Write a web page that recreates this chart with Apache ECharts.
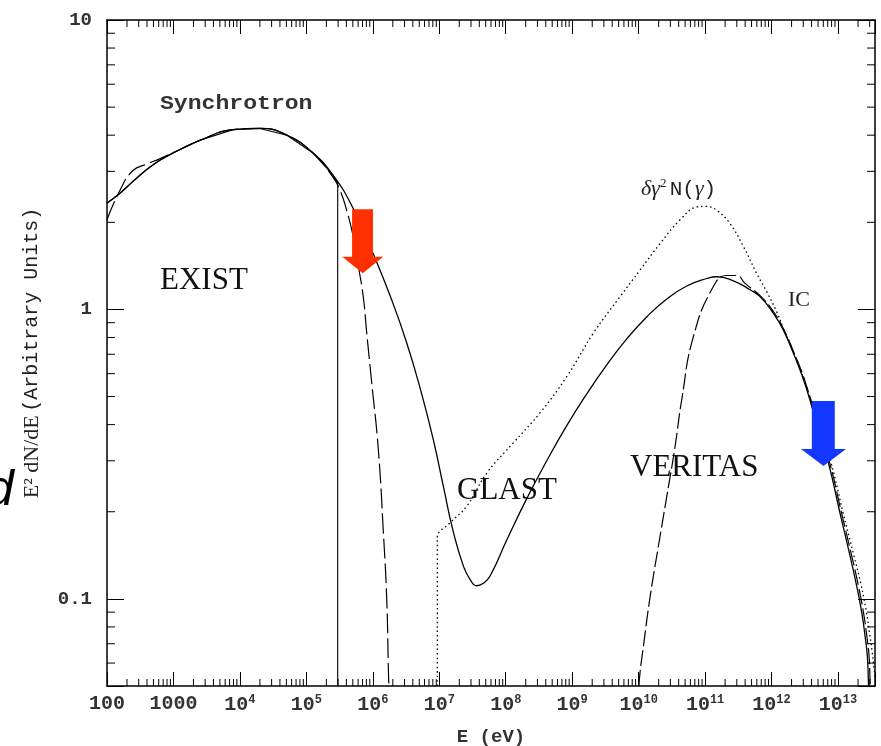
<!DOCTYPE html>
<html>
<head>
<meta charset="utf-8">
<script src="https://cdn.jsdelivr.net/npm/echarts@6/dist/echarts.min.js"></script>
<style>
html, body { margin: 0; padding: 0; background: #fff; }
#chart { width: 881px; height: 746px; }
</style>
</head>
<body>
<div id="chart"></div>
<script>
// axis ranges / tick labels
const xMin = 100
const xMax = 3.6e13
const yMin = 0.05
const yMax = 10
const xTickExp = [2, 3, 4, 5, 6, 7, 8, 9, 10, 11, 12, 13]
const xTickText = ['100', '1000', '{b|10}{s|4}', '{b|10}{s|5}', '{b|10}{s|6}', '{b|10}{s|7}', '{b|10}{s|8}',
  '{b|10}{s|9}', '{b|10}{s|10}', '{b|10}{s|11}', '{b|10}{s|12}', '{b|10}{s|13}']
const yTickExp = [-1, 0, 1]
const yTickText = ['0.1', '1', '10']

// solid: synchrotron + IC total
const totalE = [100, 157, 246, 400, 628, 1256, 2512, 7870, 2.0e4, 5.1e4, 1.26e5, 2.52e5, 5.03e5, 1.0e6, 1.92e6,
  3.24e6, 5.13e6, 8.13e6, 1.15e7, 1.63e7, 2.30e7, 2.90e7, 3.66e7, 4.55e7, 5.81e7, 1.04e8, 2.07e8, 4.14e8,
  8.28e8, 1.66e9, 3.31e9, 6.62e9, 1.32e10, 2.65e10, 5.30e10, 1.06e11, 1.50e11, 2.66e11, 4.74e11, 6.71e11,
  1.064e12, 1.50e12, 2.13e12, 2.68e12, 3.39e12, 4.03e12, 7.16e12, 1.07e13, 1.52e13, 1.91e13, 2.28e13,
  2.55e13, 2.76e13, 2.86e13, 2.88e13]
const totalF = [2.33, 2.52, 2.77, 3.05, 3.28, 3.57, 3.84, 4.18, 4.22, 4.00, 3.47, 2.91, 2.24, 1.57, 1.08,
  0.766, 0.536, 0.355, 0.245, 0.170, 0.130, 0.1167, 0.111, 0.113, 0.120, 0.160, 0.222, 0.300,
  0.397, 0.511, 0.643, 0.791, 0.942, 1.087, 1.205, 1.279, 1.297, 1.255, 1.17, 1.107,
  0.970, 0.850, 0.706, 0.618, 0.528, 0.462, 0.295, 0.198, 0.1405, 0.1107, 0.0895,
  0.0744, 0.0635, 0.0527, 0.050]

// dashed: synchrotron component
const syncE = [100, 157, 246, 400, 628, 1256, 2512, 7870, 2.0e4, 5.1e4, 1.26e5, 2.52e5, 3.21e5, 4.04e5, 5.09e5,
  6.06e5, 7.2e5, 8.09e5, 9.62e5, 1.21e6, 1.44e6, 1.62e6, 1.71e6, 1.74e6]
const syncF = [2.04, 2.58, 3.02, 3.18, 3.32, 3.57, 3.84, 4.18, 4.22, 4.00, 3.47, 2.86, 2.58, 2.20, 1.78,
  1.41, 1.10, 0.83, 0.558, 0.328, 0.170, 0.0995, 0.0585, 0.050]

// thin solid with sharp cutoff
const cutE = [100, 157, 246, 400, 628, 1256, 2512, 7870, 2.0e4, 5.1e4, 1.26e5, 2.52e5, 2.96e5, 2.96e5]
const cutF = [2.33, 2.52, 2.77, 3.05, 3.28, 3.57, 3.84, 4.18, 4.22, 4.00, 3.47, 2.91, 2.73, 0.05]

// dotted: delta gamma^2 N(gamma)
const elecE = [9.35e6, 9.35e6, 1.45e7, 2.59e7, 5.18e7, 1.30e8, 3.28e8, 8.28e8, 2.08e9, 5.25e9, 1.05e10, 2.10e10,
  4.20e10, 7.48e10, 1.06e11, 1.50e11, 2.37e11, 3.77e11, 5.98e11, 8.47e11, 1.20e12, 1.50e12, 2.13e12, 2.68e12,
  3.39e12, 4.03e12, 7.7e12, 1.18e13, 1.72e13, 2.2e13, 2.65e13, 2.98e13, 3.25e13, 3.5e13, 3.6e13]
const elecF = [0.05, 0.163, 0.183, 0.209, 0.272, 0.346, 0.439, 0.586, 0.828, 1.107, 1.368, 1.69,
  2.04, 2.26, 2.27, 2.20, 1.98, 1.65, 1.33, 1.15, 0.98, 0.86, 0.715, 0.627,
  0.537, 0.47, 0.30, 0.20, 0.142, 0.113, 0.091, 0.076, 0.066, 0.057, 0.054]

// dashed: IC component
const icE = [1.01e10, 1.05e10, 1.18e10, 1.49e10, 1.98e10, 2.65e10, 3.53e10, 4.45e10, 6.66e10, 1.33e11, 2.12e11,
  2.99e11, 3.99e11, 6.9e11, 1.09e12, 1.53e12, 2.18e12, 2.76e12, 3.5e12, 4.18e12, 7.5e12, 1.13e13, 1.61e13,
  2.03e13, 2.42e13, 2.71e13, 2.93e13, 3.03e13, 3.06e13]
const icF = [0.050, 0.0558, 0.0687, 0.102, 0.152, 0.226, 0.336, 0.488, 0.805, 1.20, 1.31,
  1.31, 1.23, 1.11, 0.975, 0.852, 0.708, 0.62, 0.528, 0.462, 0.295, 0.198, 0.1405,
  0.1107, 0.0895, 0.0744, 0.0635, 0.0527, 0.050]

// arrows (centre positions)
const redArrow = [7.05e5, 1.72]
const blueArrow = [6.05e12, 0.373]

const pair = (xs, ys) => xs.map((x, i) => [x, ys[i]])
const isDecade = v => Math.abs(Math.log10(v) - Math.round(Math.log10(v))) < 1e-6

// minor log ticks (2..9 per decade)
const xMinor = []
for (let d = 2; d <= 13; d++) {
  for (let k = 2; k <= 9; k++) {
    if (k * Math.pow(10, d) < xMax) xMinor.push([k * Math.pow(10, d), 1])
  }
}
const yMinor = []
for (let d = -2; d <= 0; d++) {
  for (let k = 2; k <= 9; k++) {
    const v = k * Math.pow(10, d)
    if (v > yMin && v < yMax) yMinor.push([1000, v])
  }
}

const ARROW = 'path://M24,0 L75,0 L75,74 L100,74 L50,100 L0,74 L24,74 Z'
const MONO = 'Liberation Mono'
const SERIF = 'Liberation Serif'

function lineSeries (name, data, type, width, smooth) {
  return {
    name: name,
    type: 'line',
    data: data,
    showSymbol: false,
    smooth: smooth,
    lineStyle: { color: '#000', width: width || 1.2, type: type || 'solid' },
    silent: true,
    z: 3
  }
}

let chart = echarts.init(document.getElementById('chart'))
let option = {
  animation: false,
  backgroundColor: '#fff',
  grid: { left: 107, right: 6, top: 20, bottom: 60, outerBoundsMode: 'none', containLabel: false },
  xAxis: [
    {
      type: 'log',
      logBase: 10,
      min: xMin,
      max: xMax,
      interval: 1,
      position: 'bottom',
      name: 'E (eV)',
      nameLocation: 'middle',
      nameGap: 42,
      nameTextStyle: { fontFamily: MONO, fontWeight: 'bold', fontSize: 19, color: '#333' },
      axisLine: { lineStyle: { color: '#000', width: 1.5 } },
      axisTick: { inside: true, length: 14, lineStyle: { color: '#000', width: 1 } },
      splitLine: { show: false },
      axisLabel: {
        interval: 0,
        margin: 8,
        color: '#333',
        fontFamily: MONO,
        fontWeight: 'bold',
        fontSize: 20,
        formatter: function (v) {
          if (!isDecade(v)) return ''
          const i = xTickExp.indexOf(Math.round(Math.log10(v)))
          return i < 0 ? '' : xTickText[i]
        },
        rich: {
          b: { fontFamily: MONO, fontWeight: 'bold', fontSize: 20, color: '#333', lineHeight: 22 },
          s: { fontFamily: MONO, fontWeight: 'bold', fontSize: 12, color: '#333', lineHeight: 12, verticalAlign: 'top' }
        }
      }
    },
    {
      type: 'log',
      logBase: 10,
      min: xMin,
      max: xMax,
      interval: 1,
      position: 'top',
      axisLine: { lineStyle: { color: '#000', width: 1.5 } },
      axisTick: { inside: true, length: 14, lineStyle: { color: '#000', width: 1 } },
      splitLine: { show: false },
      axisLabel: { show: false }
    }
  ],
  yAxis: [
    {
      type: 'log',
      logBase: 10,
      min: yMin,
      max: yMax,
      position: 'left',
      name: '{a|E² dN/dE} {b|(Arbitrary Units)}',
      nameLocation: 'middle',
      nameGap: 64,
      nameTextStyle: {
        rich: {
          a: { fontFamily: SERIF, fontSize: 22, color: '#222' },
          b: { fontFamily: MONO, fontSize: 20, color: '#222' }
        }
      },
      axisLine: { lineStyle: { color: '#000', width: 1.5 } },
      axisTick: { inside: true, length: 17, lineStyle: { color: '#000', width: 1 } },
      splitLine: { show: false },
      axisLabel: {
        margin: 15,
        color: '#333',
        fontFamily: MONO,
        fontWeight: 'bold',
        fontSize: 19,
        formatter: function (v) {
          if (!isDecade(v)) return ''
          const i = yTickExp.indexOf(Math.round(Math.log10(v)))
          return i < 0 ? '' : yTickText[i]
        }
      }
    },
    {
      type: 'log',
      logBase: 10,
      min: yMin,
      max: yMax,
      position: 'right',
      axisLine: { lineStyle: { color: '#000', width: 1.5 } },
      axisTick: { inside: true, length: 17, lineStyle: { color: '#000', width: 1 } },
      splitLine: { show: false },
      axisLabel: { show: false }
    }
  ],
  graphic: [
    { type: 'text', x: 160, y: 93, scaleX: 1.1, style: { text: 'Synchrotron', fontFamily: MONO, fontWeight: 'bold', fontSize: 21, fill: '#333' } },
    { type: 'text', left: 160, top: 265, style: { text: 'EXIST', fontFamily: SERIF, fontSize: 31, fill: '#111' } },
    { type: 'text', left: 457, top: 475, style: { text: 'GLAST', fontFamily: SERIF, fontSize: 31, fill: '#111' } },
    { type: 'text', left: 630, top: 452, style: { text: 'VERITAS', fontFamily: SERIF, fontSize: 31, fill: '#111' } },
    { type: 'text', left: 788, top: 289, style: { text: 'IC', fontFamily: SERIF, fontSize: 22, fill: '#222' } },
    {
      type: 'text',
      left: 641,
      top: 177,
      style: {
        text: '{g|δγ}{t|2} {m|N(}{g|γ}{m|)}',
        rich: {
          g: { fontFamily: SERIF, fontStyle: 'italic', fontSize: 22, fill: '#222', lineHeight: 24 },
          t: { fontFamily: SERIF, fontSize: 13, fill: '#222', lineHeight: 13, verticalAlign: 'top' },
          m: { fontFamily: MONO, fontSize: 21, fill: '#222', lineHeight: 24 }
        }
      }
    },
    { type: 'text', left: -14, top: 466, style: { text: 'd', fontFamily: 'Liberation Sans', fontStyle: 'italic', fontSize: 50, fill: '#000' } }
  ],
  series: [
    lineSeries('total', pair(totalE, totalF), 'solid', 1.3, 0.5),
    lineSeries('cutoff', pair(cutE, cutF), 'solid', 1.1, false),
    lineSeries('synchrotron', pair(syncE, syncF), [20, 5], 1.2, 0.5),
    lineSeries('electrons', pair(elecE, elecF), [1.5, 3], 1.3, 0.4),
    lineSeries('IC', pair(icE, icF), [16, 4], 1.2, 0.5),
    {
      type: 'scatter',
      silent: true,
      data: [
        { value: redArrow, symbolSize: [41, 64], itemStyle: { color: '#ff3000', opacity: 1 } },
        { value: blueArrow, symbolSize: [45, 65], itemStyle: { color: '#1238ff', opacity: 1 } }
      ],
      symbol: ARROW,
      z: 5
    },
    {
      type: 'custom',
      silent: true,
      data: xMinor,
      encode: { x: 0, y: 1 },
      renderItem: function (params, api) {
        const cs = params.coordSys
        const p = api.coord([api.value(0), 1])
        const b = cs.y + cs.height
        return {
          type: 'group',
          children: [
            { type: 'line', shape: { x1: p[0], y1: b, x2: p[0], y2: b - 7 }, style: { stroke: '#000', lineWidth: 1 } },
            { type: 'line', shape: { x1: p[0], y1: cs.y, x2: p[0], y2: cs.y + 7 }, style: { stroke: '#000', lineWidth: 1 } }
          ]
        }
      }
    },
    {
      type: 'custom',
      silent: true,
      data: yMinor,
      encode: { x: 0, y: 1 },
      renderItem: function (params, api) {
        const cs = params.coordSys
        const p = api.coord([1000, api.value(1)])
        const r = cs.x + cs.width
        return {
          type: 'group',
          children: [
            { type: 'line', shape: { x1: cs.x, y1: p[1], x2: cs.x + 8, y2: p[1] }, style: { stroke: '#000', lineWidth: 1 } },
            { type: 'line', shape: { x1: r, y1: p[1], x2: r - 8, y2: p[1] }, style: { stroke: '#000', lineWidth: 1 } }
          ]
        }
      }
    }
  ]
}
chart.setOption(option)
window.addEventListener('resize', function () {
  chart.resize()
})
</script>
</body>
</html>
